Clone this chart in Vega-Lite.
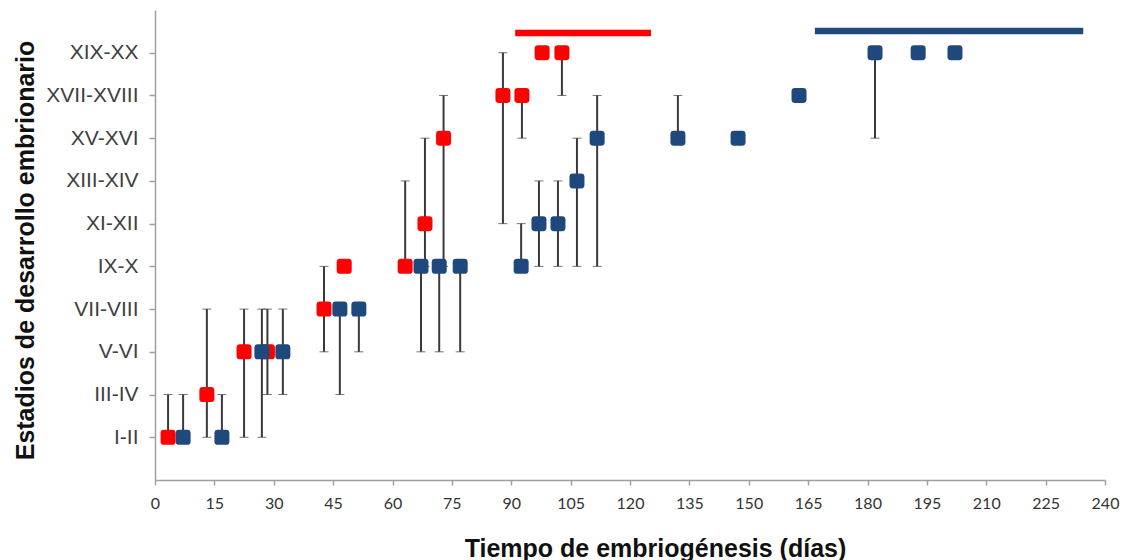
{
  "$schema": "https://vega.github.io/schema/vega-lite/v6.json",
  "width": 950,
  "height": 470,
  "autosize": {"type": "none"},
  "padding": {"left": 155, "top": 10, "right": 19, "bottom": 80},
  "background": "white",
  "datasets": {
    "obs": [
      {"g": "A", "day": 3.3, "stage": 1, "lo": 1, "hi": 2},
      {"g": "A", "day": 13.1, "stage": 2, "lo": 1, "hi": 4},
      {"g": "A", "day": 22.5, "stage": 3, "lo": 1, "hi": 4},
      {"g": "A", "day": 28.4, "stage": 3, "lo": 2, "hi": 4},
      {"g": "A", "day": 42.7, "stage": 4, "lo": 3, "hi": 5},
      {"g": "A", "day": 47.8, "stage": 5, "lo": null, "hi": null},
      {"g": "A", "day": 63.2, "stage": 5, "lo": 5, "hi": 7},
      {"g": "A", "day": 68.2, "stage": 6, "lo": 5, "hi": 8},
      {"g": "A", "day": 72.9, "stage": 8, "lo": 5, "hi": 9},
      {"g": "A", "day": 87.9, "stage": 9, "lo": 6, "hi": 10},
      {"g": "A", "day": 92.7, "stage": 9, "lo": 8, "hi": 9},
      {"g": "A", "day": 97.8, "stage": 10, "lo": null, "hi": null},
      {"g": "A", "day": 102.8, "stage": 10, "lo": 9, "hi": 10},
      {"g": "B", "day": 7.1, "stage": 1, "lo": 1, "hi": 2},
      {"g": "B", "day": 16.9, "stage": 1, "lo": 1, "hi": 2},
      {"g": "B", "day": 27.0, "stage": 3, "lo": 1, "hi": 4},
      {"g": "B", "day": 32.3, "stage": 3, "lo": 2, "hi": 4},
      {"g": "B", "day": 46.7, "stage": 4, "lo": 2, "hi": 4},
      {"g": "B", "day": 51.5, "stage": 4, "lo": 3, "hi": 4},
      {"g": "B", "day": 67.2, "stage": 5, "lo": 3, "hi": 5},
      {"g": "B", "day": 71.8, "stage": 5, "lo": 3, "hi": 5},
      {"g": "B", "day": 77.1, "stage": 5, "lo": 3, "hi": 5},
      {"g": "B", "day": 92.5, "stage": 5, "lo": 5, "hi": 6},
      {"g": "B", "day": 97.0, "stage": 6, "lo": 5, "hi": 7},
      {"g": "B", "day": 101.8, "stage": 6, "lo": 5, "hi": 7},
      {"g": "B", "day": 106.6, "stage": 7, "lo": 5, "hi": 8},
      {"g": "B", "day": 111.7, "stage": 8, "lo": 5, "hi": 9},
      {"g": "B", "day": 132.1, "stage": 8, "lo": 8, "hi": 9},
      {"g": "B", "day": 147.3, "stage": 8, "lo": null, "hi": null},
      {"g": "B", "day": 162.7, "stage": 9, "lo": null, "hi": null},
      {"g": "B", "day": 181.9, "stage": 10, "lo": 8, "hi": 10},
      {"g": "B", "day": 192.8, "stage": 10, "lo": null, "hi": null},
      {"g": "B", "day": 202.1, "stage": 10, "lo": null, "hi": null}
    ],
    "periods": [
      {"g": "A", "start": 91, "end": 125.3, "level": 10.46},
      {"g": "B", "start": 166.7, "end": 234.5, "level": 10.51}
    ]
  },
  "layer": [
    {
      "data": {"name": "obs"},
      "transform": [{"filter": "datum.lo != null"}],
      "mark": {
        "type": "errorbar",
        "ticks": {"size": 9, "color": "#3a3a3a", "strokeWidth": 2},
        "rule": {"color": "#3a3a3a", "strokeWidth": 2}
      },
      "encoding": {
        "x": {"field": "day", "type": "quantitative", "title": "Tiempo de embriogénesis (días)", "scale": {"domain": [0, 240], "nice": false, "zero": false},
              "axis": {"values": [0, 15, 30, 45, 60, 75, 90, 105, 120, 135, 150, 165, 180, 195, 210, 225, 240]}},
        "y": {"field": "lo", "type": "quantitative", "title": "Estadios de desarrollo embrionario", "scale": {"domain": [0, 11], "nice": false, "zero": false},
              "axis": {"values": [1, 2, 3, 4, 5, 6, 7, 8, 9, 10]}},
        "y2": {"field": "hi"}
      }
    },
    {
      "data": {"name": "periods"},
      "mark": {"type": "rule", "strokeWidth": 6.5, "strokeCap": "butt"},
      "encoding": {
        "x": {"field": "start", "type": "quantitative", "title": "Tiempo de embriogénesis (días)",
              "axis": {"values": [0, 15, 30, 45, 60, 75, 90, 105, 120, 135, 150, 165, 180, 195, 210, 225, 240]}},
        "x2": {"field": "end"},
        "y": {"field": "level", "type": "quantitative", "title": "Estadios de desarrollo embrionario",
              "axis": {"values": [1, 2, 3, 4, 5, 6, 7, 8, 9, 10]}},
        "color": {"field": "g", "type": "nominal", "scale": {"domain": ["A", "B"], "range": ["#ff0000", "#1f497d"]}, "legend": null}
      }
    },
    {
      "data": {"name": "obs"},
      "mark": {
        "type": "point",
        "filled": true,
        "opacity": 1,
        "size": 225,
        "shape": "M-1,-0.55 Q-1,-1 -0.55,-1 L0.55,-1 Q1,-1 1,-0.55 L1,0.55 Q1,1 0.55,1 L-0.55,1 Q-1,1 -1,0.55 Z"
      },
      "encoding": {
        "x": {"field": "day", "type": "quantitative", "title": "Tiempo de embriogénesis (días)",
              "axis": {"values": [0, 15, 30, 45, 60, 75, 90, 105, 120, 135, 150, 165, 180, 195, 210, 225, 240]}},
        "y": {"field": "stage", "type": "quantitative", "title": "Estadios de desarrollo embrionario",
              "axis": {"values": [1, 2, 3, 4, 5, 6, 7, 8, 9, 10]}},
        "color": {"field": "g", "type": "nominal", "scale": {"domain": ["A", "B"], "range": ["#ff0000", "#1f497d"]}, "legend": null},
        "order": {"field": "g", "sort": "ascending"}
      }
    }
  ],
  "config": {
    "view": {"stroke": null},
    "axis": {"grid": false, "domainColor": "#a0a0a0", "domainWidth": 1.5, "tickColor": "#a0a0a0", "tickWidth": 1.5},
    "axisX": {
      "tickSize": 5,
      "labelPadding": 10,
      "labelFont": "Lato",
      "labelFontSize": 16,
      "labelColor": "#333333",
      "labelFlush": false,
      "labelOverlap": false,
      "titleFont": "Liberation Sans",
      "titleFontWeight": "bold",
      "titleFontSize": 25,
      "titleColor": "#111111",
      "titleX": 500,
      "titleY": 76,
      "titleAlign": "center",
      "titleBaseline": "alphabetic"
    },
    "axisY": {
      "labelExpr": "['','I-II','III-IV','V-VI','VII-VIII','IX-X','XI-XII','XIII-XIV','XV-XVI','XVII-XVIII','XIX-XX',''][datum.value]",
      "tickSize": 6,
      "labelPadding": 11,
      "labelFont": "Liberation Sans",
      "labelFontSize": 21,
      "labelColor": "#404040",
      "labelOverlap": false,
      "labelFlush": false,
      "titleFont": "Liberation Sans",
      "titleFontWeight": "bold",
      "titleFontSize": 25,
      "titleColor": "#111111",
      "titleAngle": -90,
      "titleX": -122,
      "titleY": 240,
      "titleAlign": "center",
      "titleBaseline": "alphabetic"
    }
  }
}
